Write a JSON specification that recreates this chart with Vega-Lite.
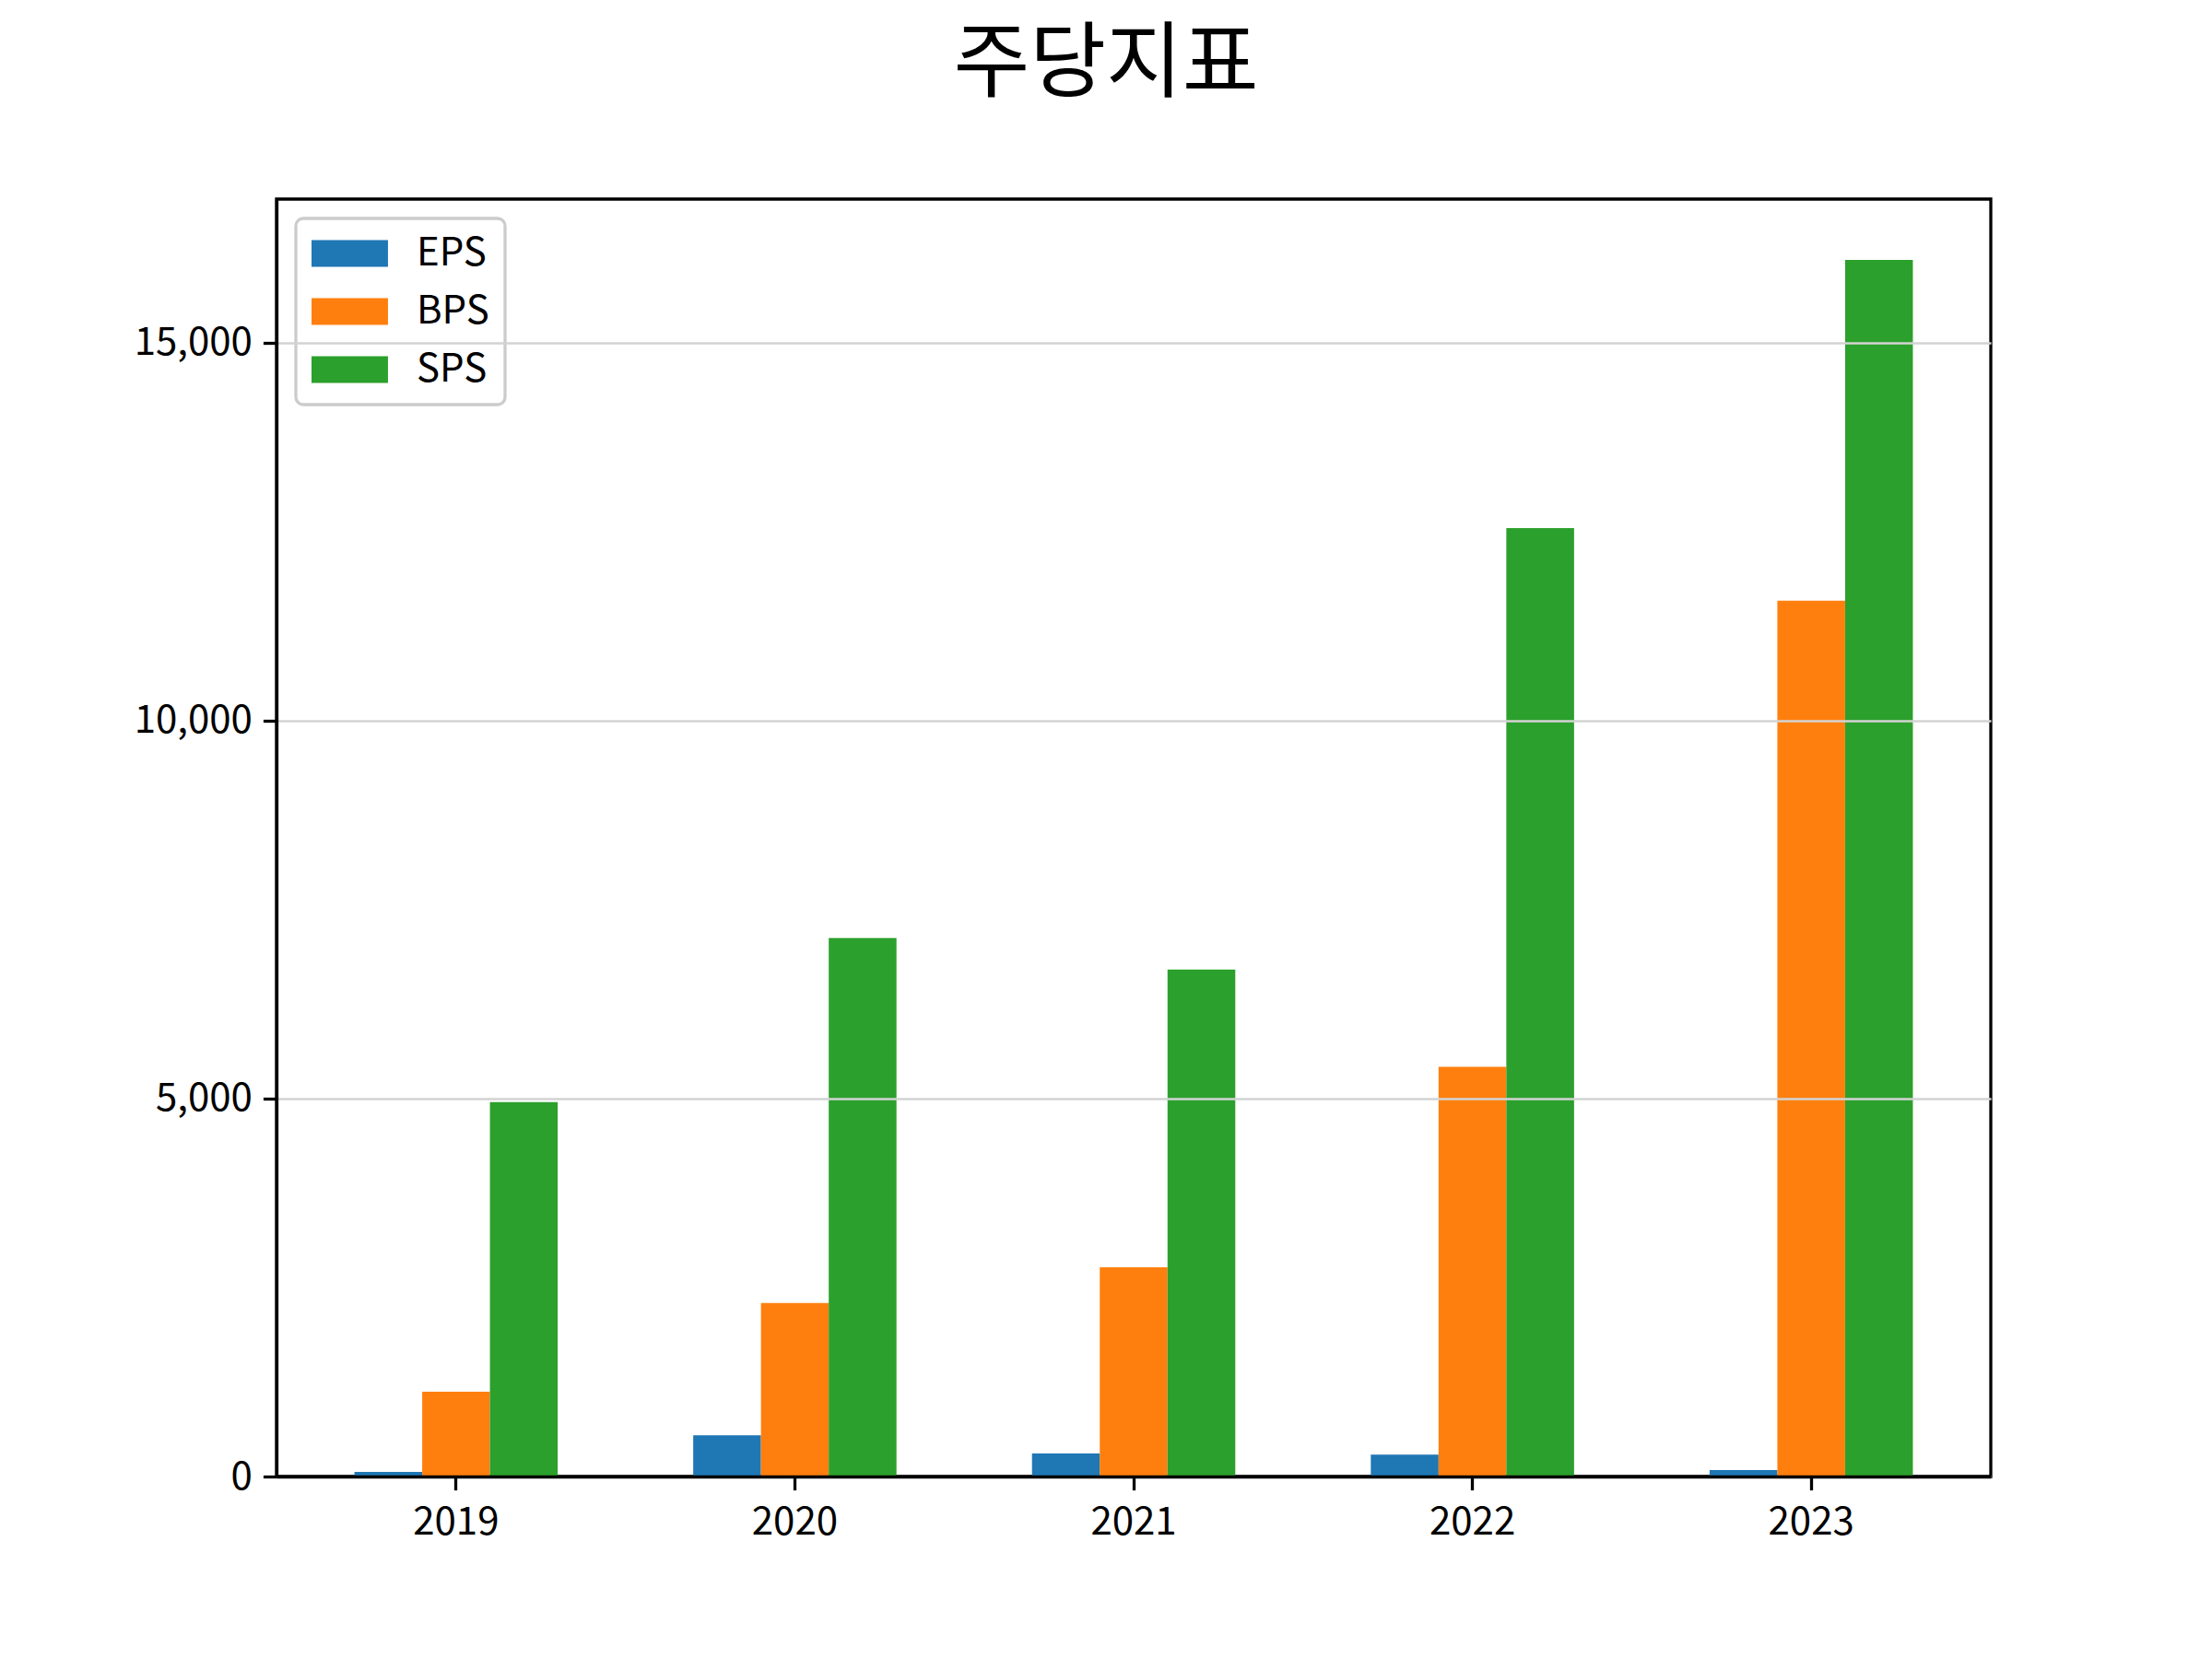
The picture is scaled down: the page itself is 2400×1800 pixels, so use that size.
{
  "$schema": "https://vega.github.io/schema/vega-lite/v6.json",
  "autosize": {"type": "none"},
  "width": 1860,
  "height": 1386,
  "padding": {"left": 300, "top": 216, "right": 240, "bottom": 198},
  "background": "white",
  "title": {
    "text": "주당지표",
    "fontSize": 90,
    "font": "Noto Sans CJK KR",
    "fontWeight": "normal",
    "color": "black",
    "anchor": "middle",
    "dx": -30,
    "baseline": "alphabetic",
    "offset": 28
  },
  "data": {
    "values": [
      {"year": "2019", "metric": "EPS", "value": 60},
      {"year": "2019", "metric": "BPS", "value": 1122},
      {"year": "2019", "metric": "SPS", "value": 4951},
      {"year": "2020", "metric": "EPS", "value": 547},
      {"year": "2020", "metric": "BPS", "value": 2294},
      {"year": "2020", "metric": "SPS", "value": 7123},
      {"year": "2021", "metric": "EPS", "value": 304},
      {"year": "2021", "metric": "BPS", "value": 2768},
      {"year": "2021", "metric": "SPS", "value": 6706},
      {"year": "2022", "metric": "EPS", "value": 291},
      {"year": "2022", "metric": "BPS", "value": 5420},
      {"year": "2022", "metric": "SPS", "value": 12545},
      {"year": "2023", "metric": "EPS", "value": 84},
      {"year": "2023", "metric": "BPS", "value": 11584},
      {"year": "2023", "metric": "SPS", "value": 16091}
    ]
  },
  "mark": {"type": "bar"},
  "encoding": {
    "x": {
      "field": "year",
      "type": "nominal",
      "sort": ["2019", "2020", "2021", "2022", "2023"],
      "scale": {"paddingInner": 0.4, "paddingOuter": 0.23},
      "axis": {
        "title": null,
        "labelAngle": 0,
        "labelFontSize": 42,
        "labelFont": "Noto Sans CJK KR",
        "labelColor": "black",
        "labelPadding": 15,
        "tickSize": 14.6,
        "tickWidth": 3.3,
        "tickColor": "black",
        "domainColor": "black",
        "domainWidth": 3.3,
        "grid": false,
        "zindex": 1
      }
    },
    "xOffset": {
      "field": "metric",
      "type": "nominal",
      "sort": ["EPS", "BPS", "SPS"],
      "scale": {"paddingInner": 0, "paddingOuter": 0}
    },
    "y": {
      "field": "value",
      "type": "quantitative",
      "scale": {"domain": [0, 16896], "nice": false, "zero": true},
      "axis": {
        "title": null,
        "values": [0, 5000, 10000, 15000],
        "format": ",d",
        "labelFontSize": 42,
        "labelFont": "Noto Sans CJK KR",
        "labelColor": "black",
        "labelPadding": 12,
        "tickSize": 14.6,
        "tickWidth": 3.3,
        "tickColor": "black",
        "domainColor": "black",
        "domainWidth": 3.3,
        "grid": true,
        "gridColor": "#d3d3d3",
        "gridWidth": 2.5,
        "zindex": 1
      }
    },
    "color": {
      "field": "metric",
      "type": "nominal",
      "sort": ["EPS", "BPS", "SPS"],
      "scale": {"domain": ["EPS", "BPS", "SPS"], "range": ["#1f77b4", "#ff7f0e", "#2ca02c"]},
      "legend": {
        "title": null,
        "orient": "none",
        "legendX": 21,
        "legendY": 21,
        "padding": 17,
        "fillColor": "rgba(255,255,255,0.8)",
        "strokeColor": "#cccccc",
        "cornerRadius": 8,
        "symbolType": "M-1,-0.69L2.95,-0.69L2.95,0.69L-1,0.69Z",
        "symbolSize": 1764,
        "symbolStrokeWidth": 0,
        "symbolOpacity": 1,
        "labelFontSize": 42,
        "labelFont": "Noto Sans CJK KR",
        "labelColor": "black",
        "labelOffset": 72,
        "rowPadding": 21,
        "encode": {
          "legend": {"update": {"strokeWidth": {"value": 3.3}}}
        }
      }
    }
  },
  "config": {
    "view": {"stroke": "black", "strokeWidth": 3.3},
    "font": "Noto Sans CJK KR"
  }
}
